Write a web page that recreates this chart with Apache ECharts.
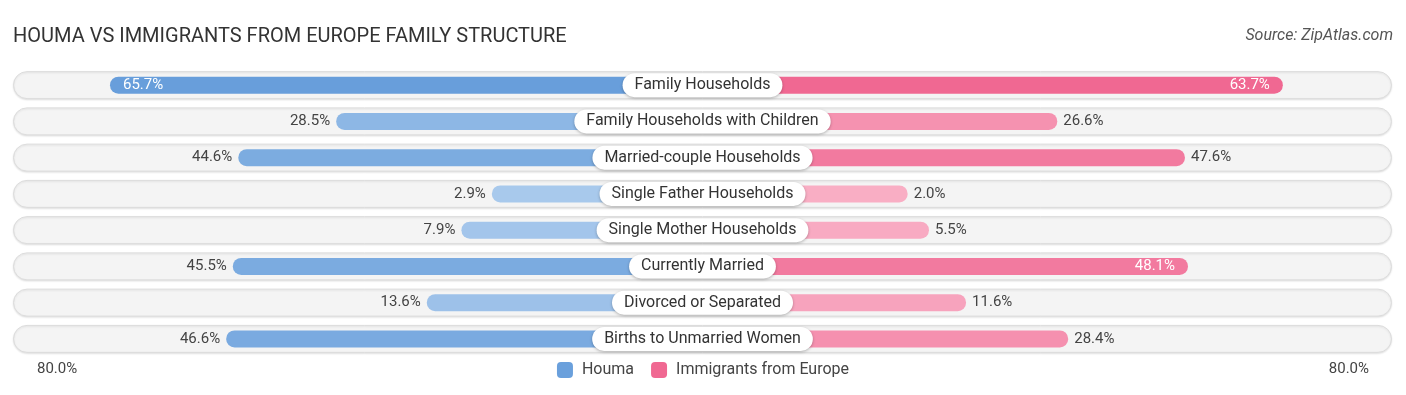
<!DOCTYPE html>
<html>
<head>
<meta charset="utf-8">
<script src="https://cdn.jsdelivr.net/npm/echarts@6/dist/echarts.min.js"></script>
<style>
html,body{margin:0;padding:0;background:#fff;}
#chart{width:1406px;height:395px;}
</style>
</head>
<body>
<div id="chart"></div>
<script>
const categories = ['Family Households','Family Households with Children','Married-couple Households','Single Father Households','Single Mother Households','Currently Married','Divorced or Separated','Births to Unmarried Women'];
const houma = [65.7, 28.5, 44.6, 2.9, 7.9, 45.5, 13.6, 46.6];
const europe = [63.7, 26.6, 47.6, 2.0, 5.5, 48.1, 11.6, 28.4];
const seriesNames = ['Houma', 'Immigrants from Europe'];
const axisTickLabels = ['80.0%', '80.0%'];

const OFF = 31.75;      // gap behind the centre label, in axis units
const AX = 113.4;       // half-extent of the axis
const FONT = 'Roboto, "Noto Sans", sans-serif';

function mix(a, b, t) {
  t = Math.max(0, Math.min(1, t));
  const r = Math.round(a[0] + (b[0] - a[0]) * t);
  const g = Math.round(a[1] + (b[1] - a[1]) * t);
  const bl = Math.round(a[2] + (b[2] - a[2]) * t);
  return 'rgb(' + r + ',' + g + ',' + bl + ')';
}
const blueLight = [171, 203, 237], blueDark = [104, 158, 219];
const pinkLight = [249, 176, 198], pinkDark = [240, 104, 146];

function sideData(vals, sign, light, dark) {
  return vals.map(v => {
    const inside = v > 48;
    return {
      value: sign * (v + OFF),
      itemStyle: { color: mix(light, dark, v / 64) },
      label: {
        position: sign < 0 ? (inside ? 'insideLeft' : 'left') : (inside ? 'insideRight' : 'right'),
        distance: inside ? 13 : 6,
        color: inside ? '#fff' : '#444'
      }
    };
  });
}

const chart = echarts.init(document.getElementById('chart'), null, { renderer: 'canvas' });
chart.setOption({
  animation: false,
  title: [
    { text: 'HOUMA VS IMMIGRANTS FROM EUROPE FAMILY STRUCTURE', left: 8, top: 22,
      textStyle: { fontFamily: FONT, fontSize: 20, fontWeight: 'normal', color: '#333' } },
    { text: 'Source: ZipAtlas.com', right: 8, top: 23,
      textStyle: { fontFamily: FONT, fontSize: 16, fontStyle: 'italic', fontWeight: 'normal', color: '#555' } }
  ],
  legend: {
    bottom: 12, left: 'center', itemWidth: 16, itemHeight: 16, itemGap: 17, icon: 'roundRect',
    textStyle: { fontFamily: FONT, fontSize: 16, color: '#444', padding: [0, 0, 0, 4] },
    data: [
      { name: seriesNames[0], itemStyle: { color: '#6aa0dc' } },
      { name: seriesNames[1], itemStyle: { color: '#f06892' } }
    ]
  },
  graphic: [
    { type: 'text', left: 37, top: 362, style: { text: axisTickLabels[0], font: '15px ' + FONT, fill: '#444' } },
    { type: 'text', right: 37, top: 362, style: { text: axisTickLabels[1], font: '15px ' + FONT, fill: '#444' } }
  ],
  grid: { left: 13, right: 14, top: 67, height: 290 },
  xAxis: [
    { type: 'value', min: -AX, max: AX, show: false },
    { type: 'value', min: 0, max: 1, show: false }
  ],
  yAxis: [
    { type: 'category', data: categories, inverse: true, show: false },
    { type: 'category', data: categories, inverse: true, show: false }
  ],
  series: [
    {
      type: 'bar', xAxisIndex: 1, yAxisIndex: 1, barWidth: 28, silent: true, z: 1,
      data: categories.map(() => 1),
      itemStyle: { color: '#f4f4f4', borderColor: '#dcdcdc', borderWidth: 1, borderRadius: 14,
        shadowColor: 'rgba(0,0,0,0.10)', shadowBlur: 2, shadowOffsetY: 1 }
    },
    {
      name: seriesNames[0], type: 'bar', xAxisIndex: 0, yAxisIndex: 0, barWidth: 17, barGap: '-100%', z: 3,
      data: sideData(houma, -1, blueLight, blueDark),
      itemStyle: { borderRadius: 9 },
      label: { show: true, fontFamily: FONT, fontSize: 15,
        formatter: p => houma[p.dataIndex].toFixed(1) + '%' }
    },
    {
      name: seriesNames[1], type: 'bar', xAxisIndex: 0, yAxisIndex: 0, barWidth: 17, barGap: '-100%', z: 3,
      data: sideData(europe, 1, pinkLight, pinkDark),
      itemStyle: { borderRadius: 9 },
      label: { show: true, fontFamily: FONT, fontSize: 15,
        formatter: p => europe[p.dataIndex].toFixed(1) + '%' }
    },
    {
      type: 'scatter', xAxisIndex: 0, yAxisIndex: 0, symbolSize: 2, z: 6, zlevel: 1, silent: true,
      itemStyle: { color: '#fff', opacity: 1 },
      emphasis: { disabled: true },
      data: categories.map(c => [0, c]),
      label: {
        show: true, position: 'inside', formatter: p => p.value[1], opacity: 1,
        fontFamily: FONT, fontSize: 16, color: '#333',
        backgroundColor: '#ffffff', borderRadius: 13, padding: [4, 12, 4, 12],
        shadowColor: 'rgba(0,0,0,0.28)', shadowBlur: 3, shadowOffsetY: 1
      }
    }
  ]
});
</script>
</body>
</html>
